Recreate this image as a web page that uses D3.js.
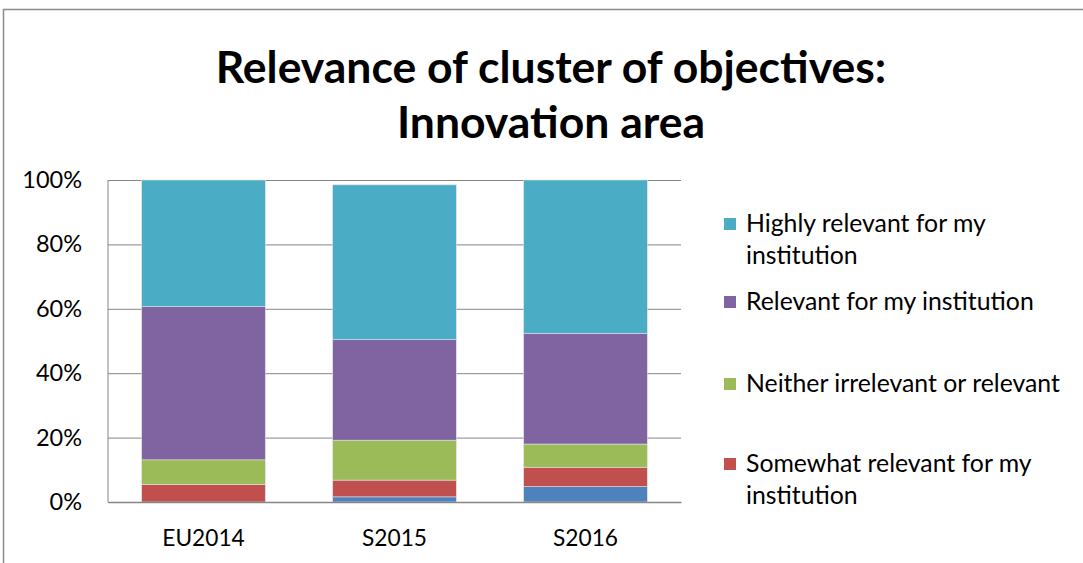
<!DOCTYPE html>
<html>
<head>
<meta charset="utf-8">
<script src="https://cdn.jsdelivr.net/npm/d3@7"></script>
<style>
    body { margin: 0; background: #fff; }
    svg text { font-family: Lato, "Open Sans", sans-serif; fill: #000; }
</style>
</head>
<body>
<div id="chart"></div>
<script>
/*
 * Stacked percentage bars: relevance of cluster of objectives (innovation area)
 */

var categories = ["EU2014", "S2015", "S2016"];
var seriesNames = ["Not relevant for my institution",
    "Somewhat relevant for my institution",
    "Neither irrelevant or relevant",
    "Relevant for my institution",
    "Highly relevant for my institution"];
// values in %, bottom to top
var notRelevant = [0, 1.6, 4.8];
var somewhatRelevant = [5.5, 5.2, 6.0];
var neither = [7.6, 12.4, 7.2];
var relevant = [47.6, 31.2, 34.4];
var highlyRelevant = [39.3, 48.1, 47.6];
var yTicks = [0, 20, 40, 60, 80, 100];
var colors = ["#4F81BD", "#C0504D", "#9BBB59", "#8064A2", "#4BACC6"];

// legend shows the top four series only, top first
var legendItems = [
    {i: 4, lines: ["Highly relevant for my", "institution"]},
    {i: 3, lines: ["Relevant for my institution"]},
    {i: 2, lines: ["Neither irrelevant or relevant"]},
    {i: 1, lines: ["Somewhat relevant for my", "institution"]}
];

var width = 1083, height = 563;
var plot = {left: 108, right: 681, top: 180, bottom: 502};

var rows = categories.map(function (c, k) {
    return {
        cat: c,
        s0: notRelevant[k], s1: somewhatRelevant[k], s2: neither[k],
        s3: relevant[k], s4: highlyRelevant[k]
    };
});
var stack = d3.stack().keys(["s0", "s1", "s2", "s3", "s4"])(rows);

var svg = d3.select("#chart")
        .append("svg")
        .attr("width", width)
        .attr("height", height);

// chart frame
svg.append("rect")
        .attr("x", 3.5)
        .attr("y", 9.5)
        .attr("width", width + 10)
        .attr("height", height + 10)
        .attr("fill", "#fff")
        .attr("stroke", "#8c8c8c")
        .attr("stroke-width", 1.5);

var x = d3.scaleBand()
        .domain(categories)
        .range([plot.left, plot.right])
        .paddingInner(0.353)
        .paddingOuter(0.1765);
var y = d3.scaleLinear()
        .domain([0, 100])
        .range([plot.bottom, plot.top]);

// gridlines + y labels
svg.append("g")
        .attr("transform", "translate(" + plot.left + ",0)")
        .call(d3.axisLeft(y)
                .tickValues(yTicks)
                .tickSize(-(plot.right - plot.left))
                .tickPadding(26)
                .tickFormat(function (d) { return d + "%"; }))
        .call(function (g) {
            g.select(".domain").remove();
            g.selectAll("line").attr("stroke", "#868686");
            g.selectAll("text").attr("font-size", 23.5).attr("fill", "#000");
        });

// bars
svg.append("g")
        .selectAll("g")
        .data(stack)
        .enter()
        .append("g")
        .attr("fill", function (d, i) { return colors[i]; })
        .selectAll("rect")
        .data(function (d) { return d; })
        .enter()
        .append("rect")
        .attr("x", function (d) { return x(d.data.cat); })
        .attr("width", x.bandwidth())
        .attr("y", function (d) { return y(d[1]); })
        .attr("height", function (d) { return y(d[0]) - y(d[1]); })
        .attr("stroke", "#e0e0e0")
        .attr("stroke-width", 0.6);

// axis lines
svg.append("line")
        .attr("x1", plot.left).attr("x2", plot.left)
        .attr("y1", plot.top).attr("y2", plot.bottom)
        .attr("stroke", "#868686");
svg.append("g")
        .attr("transform", "translate(0," + plot.bottom + ")")
        .call(d3.axisBottom(x).tickSize(0).tickPadding(28))
        .call(function (g) {
            g.select(".domain").attr("stroke", "#868686").attr("stroke-width", 1.5);
            g.selectAll("text").attr("font-size", 22.7).attr("fill", "#000");
        });

// title
var title = svg.append("text")
        .attr("x", 551)
        .attr("text-anchor", "middle")
        .attr("font-size", 44.5)
        .attr("font-weight", "bold");
title.append("tspan").attr("x", 551).attr("y", 83)
        .text("Relevance of cluster of objectives:");
title.append("tspan").attr("x", 551).attr("y", 138)
        .text("Innovation area");

// legend
var legendY = [232, 310, 392, 472];
var legend = svg.append("g")
        .selectAll("g")
        .data(legendItems)
        .enter()
        .append("g")
        .attr("transform", function (d, k) {
            return "translate(724," + legendY[k] + ")";
        });
legend.append("rect")
        .attr("y", -14)
        .attr("width", 12)
        .attr("height", 12)
        .attr("fill", function (d) { return colors[d.i]; });
legend.append("text")
        .attr("font-size", 24.8)
        .selectAll("tspan")
        .data(function (d) { return d.lines; })
        .enter()
        .append("tspan")
        .attr("x", 22)
        .attr("y", function (d, j) { return j * 32; })
        .text(function (d) { return d; });
</script>
</body>
</html>
